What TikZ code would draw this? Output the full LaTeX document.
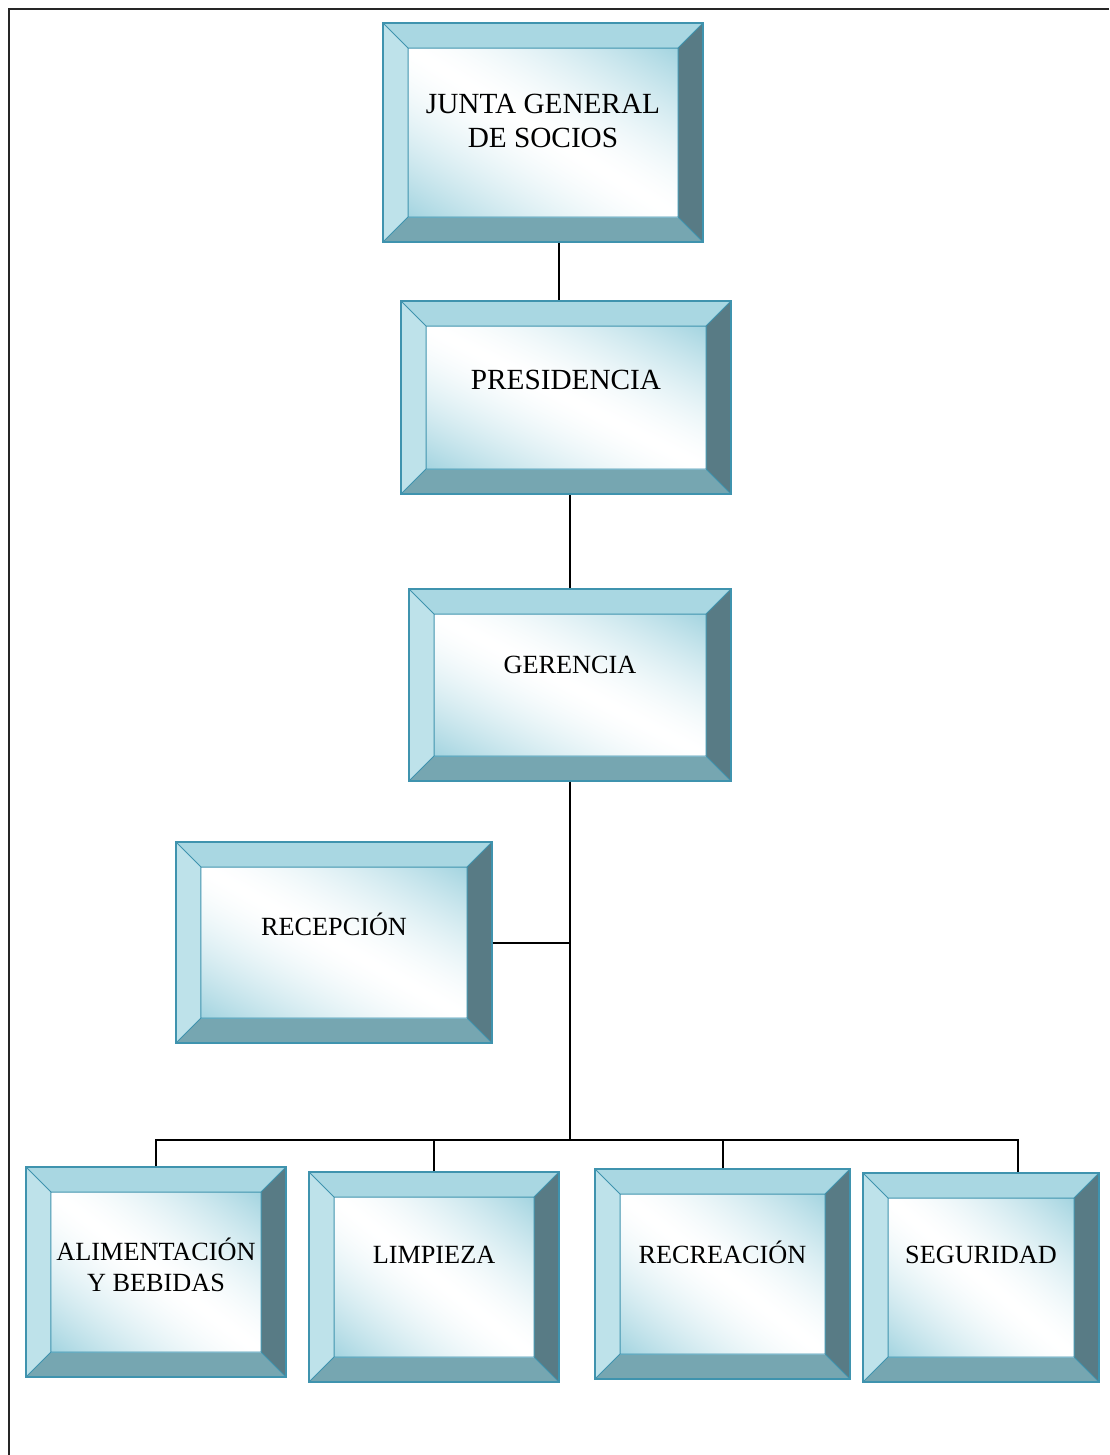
\documentclass[tikz,border=0pt]{standalone}
\usepackage{fontspec}
\setmainfont{Liberation Serif}
\usepackage{tikz}
\usetikzlibrary{calc, positioning}
\definecolor{bevtop}{HTML}{A9D7E2}
\definecolor{bevleft}{HTML}{BEE2EA}
\definecolor{bevright}{HTML}{587B85}
\definecolor{bevbottom}{HTML}{76A6B1}
\definecolor{bevline}{HTML}{3F93AE}
\pgfdeclarefunctionalshading{bevelin}{\pgfpoint{0bp}{0bp}}{\pgfpoint{100bp}{100bp}}{}{
  add 100 sub abs 50 div
  dup 1 gt {pop 1} if
  dup sqrt mul
  dup 0.361 mul 1 exch sub exch
  dup 0.169 mul 1 exch sub exch
  0.122 mul 1 exch sub
}
\newcommand{\bev}{10pt}
\tikzstyle{block} = [rectangle, draw=bevline, line width=0.5pt, align=center, inner sep=0pt,
  font=\fontsize{10.5}{12.4}\selectfont, text depth=16pt,
  path picture={
    \coordinate (nw) at (path picture bounding box.north west);
    \coordinate (ne) at (path picture bounding box.north east);
    \coordinate (se) at (path picture bounding box.south east);
    \coordinate (sw) at (path picture bounding box.south west);
    \coordinate (inw) at ($(nw)+(\bev,-\bev)$);
    \coordinate (ine) at ($(ne)+(-\bev,-\bev)$);
    \coordinate (ise) at ($(se)+(-\bev,\bev)$);
    \coordinate (isw) at ($(sw)+(\bev,\bev)$);
    \fill[bevtop] (nw) -- (ne) -- (ine) -- (inw) -- cycle;
    \fill[bevleft] (nw) -- (inw) -- (isw) -- (sw) -- cycle;
    \fill[bevright] (ne) -- (se) -- (ise) -- (ine) -- cycle;
    \fill[bevbottom] (sw) -- (isw) -- (ise) -- (se) -- cycle;
    \shade[shading=bevelin] (inw) rectangle (ise);
    \draw[bevline, line width=0.4pt] (nw) -- (inw) -- (ine) -- (ne) (ine) -- (ise) -- (se)
      (ise) -- (isw) -- (sw) (isw) -- (inw);
  }]
\tikzstyle{bigtext} = [font=\fontsize{11.7}{13.6}\selectfont]
\tikzstyle{conn} = [line width=0.8pt, black]
\tikzstyle{frame} = [line width=0.8pt, black!85]

\begin{document}
\begin{tikzpicture}[x=0.4pt, y=-0.4pt]
    \useasboundingbox (0,0) rectangle (1109,1455);
    \draw[frame] (1109,9) -- (9,9) -- (9,1455);

    \node[block, bigtext, minimum width=128pt, minimum height=87.6pt, text depth=9pt] (junta) at (543,132.5) {JUNTA GENERAL\\DE SOCIOS};
    \node[block, bigtext, minimum width=132pt, minimum height=77.2pt, text depth=14pt] (pres) at (566,397.5) {PRESIDENCIA};
    \node[block, minimum width=128.8pt, minimum height=76.8pt] (ger) at (570,685) {GERENCIA};
    \node[block, minimum width=126.4pt, minimum height=80.4pt, text depth=14.8pt] (recep) at (334,942.5) {RECEPCIÓN};
    \node[block, minimum width=104pt, minimum height=84pt, text depth=5.5pt] (alim) at (156,1272) {ALIMENTACIÓN\\Y BEBIDAS};
    \node[block, minimum width=100pt, minimum height=84pt, text depth=17.6pt] (limp) at (434,1277) {LIMPIEZA};
    \node[block, minimum width=102pt, minimum height=84pt, text depth=17.6pt] (recre) at (722.5,1274) {RECREACIÓN};
    \node[block, minimum width=94.4pt, minimum height=83.6pt, text depth=18pt] (seg) at (981,1277.5) {SEGURIDAD};
    \coordinate (bus) at (570,1140);

    \draw[conn] ([xshift=6.4pt]junta.south) -- ([xshift=6.4pt]junta.south |- pres.north);
    \draw[conn] (ger.north) -- (ger.north |- pres.south);
    \draw[conn] (ger.south) -- (bus);
    \draw[conn] (recep.east) -- (recep.east -| ger.south);
    \draw[conn] (alim.north) |- (bus) -| ([xshift=14.8pt]seg.north);
    \draw[conn] (limp.north) -- (limp.north |- bus);
    \draw[conn] (recre.north) -- (recre.north |- bus);
\end{tikzpicture}
\end{document}
